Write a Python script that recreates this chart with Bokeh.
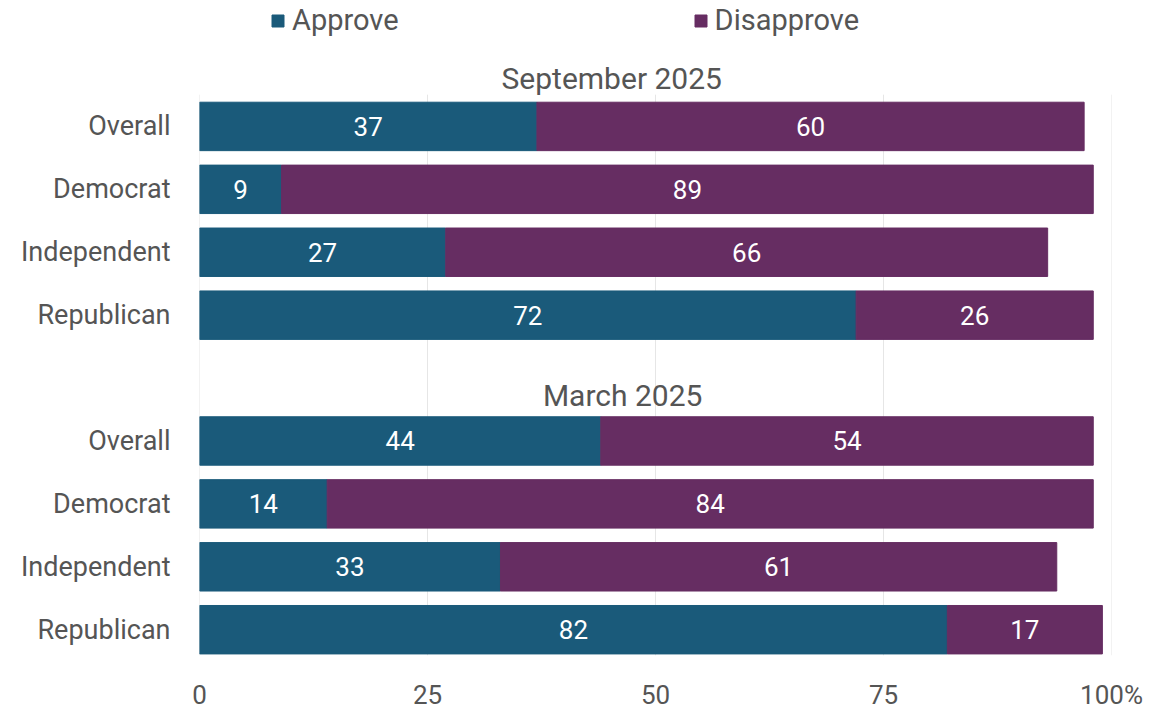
from bokeh.plotting import figure
from bokeh.models import Range1d, FixedTicker, Legend, LegendItem, ColumnDataSource
from bokeh.embed import file_html
from bokeh.resources import INLINE
from bokeh.core.properties import value

# ---- data ----
groups = ["September 2025", "March 2025"]
categories = ["Overall", "Democrat", "Independent", "Republican"]
approve_sep = [37, 9, 27, 72]
disapprove_sep = [60, 89, 66, 26]
approve_mar = [44, 14, 33, 82]
disapprove_mar = [54, 84, 61, 17]
x_ticks = [0, 25, 50, 75, 100]
x_tick_labels = ["0", "25", "50", "75", "100%"]

APPROVE = "#1a5a7a"
DISAPPROVE = "#662d62"
TEXT = "#555555"
GRID = "#e6e6e6"
FONT = "Roboto"

# slot positions: September 0-3, gap, March 5-8
slots = list(range(0, 4)) + list(range(5, 9))
labels = categories + categories
approve = approve_sep + approve_mar
disapprove = disapprove_sep + disapprove_mar

Y_TOP, Y_BOTTOM = -1.97, 8.41      # visible range (slot units)
GRID_TOP = -0.505                  # gridlines start just above first bar

src = ColumnDataSource(dict(
    y=slots,
    a=approve,
    d=disapprove,
    total=[a + d for a, d in zip(approve, disapprove)],
    a_mid=[a / 2 for a in approve],
    d_mid=[a + d / 2 for a, d in zip(approve, disapprove)],
    a_txt=[str(a) for a in approve],
    d_txt=[str(d) for d in disapprove],
))

p = figure(width=1165, height=712, output_backend="svg", toolbar_location=None,
           x_range=Range1d(0, 100), y_range=Range1d(Y_BOTTOM, Y_TOP),
           min_border_left=199, min_border_right=54, min_border_top=2,
           min_border_bottom=50)
p.outline_line_color = None
p.background_fill_color = "white"

# vertical gridlines (only over the bar area)
p.segment(x0=x_ticks, x1=x_ticks, y0=[GRID_TOP] * len(x_ticks),
          y1=[Y_BOTTOM] * len(x_ticks), line_color=GRID, line_width=1)

r_a = p.hbar(y="y", left=0, right="a", height=0.77, color=APPROVE, source=src)
r_d = p.hbar(y="y", left="a", right="total", height=0.77, color=DISAPPROVE, source=src)

p.text(x="a_mid", y="y", text="a_txt", source=src, text_color="white",
       text_align="center", text_baseline="middle", text_font=value(FONT),
       text_font_size="26px")
p.text(x="d_mid", y="y", text="d_txt", source=src, text_color="white",
       text_align="center", text_baseline="middle", text_font=value(FONT),
       text_font_size="26px")

# group headings
p.text(x=[45.2, 46.4], y=[-0.76, 4.27], text=groups, text_color=TEXT,
       text_align="center", text_baseline="middle", text_font=value(FONT),
       text_font_size="30px")

# axes
p.xaxis.ticker = FixedTicker(ticks=x_ticks)
p.xaxis.major_label_overrides = {t: l for t, l in zip(x_ticks, x_tick_labels)}
p.yaxis.ticker = FixedTicker(ticks=slots)
p.yaxis.major_label_overrides = {s: l for s, l in zip(slots, labels)}
for ax in (p.xaxis[0], p.yaxis[0]):
    ax.axis_line_color = None
    ax.major_tick_line_color = None
    ax.minor_tick_line_color = None
    ax.major_label_text_font = FONT
    ax.major_label_text_color = TEXT
p.yaxis.major_label_text_font_size = "27px"
p.xaxis.major_label_text_font_size = "26px"
p.xaxis.major_label_standoff = 18
p.yaxis.major_label_standoff = 23

p.ygrid.grid_line_color = None
p.xgrid.grid_line_color = None

legend = Legend(items=[LegendItem(label="Approve", renderers=[r_a]),
                       LegendItem(label="Disapprove", renderers=[r_d])],
                orientation="horizontal", spacing=294, location=(71, 618),
                label_text_font=FONT, label_text_font_size="29px",
                label_text_color=TEXT, glyph_width=15, glyph_height=15,
                label_standoff=7, border_line_color=None, padding=0, margin=0,
                background_fill_alpha=0)
p.add_layout(legend)

open("out.html", "w").write(file_html(p, INLINE))
